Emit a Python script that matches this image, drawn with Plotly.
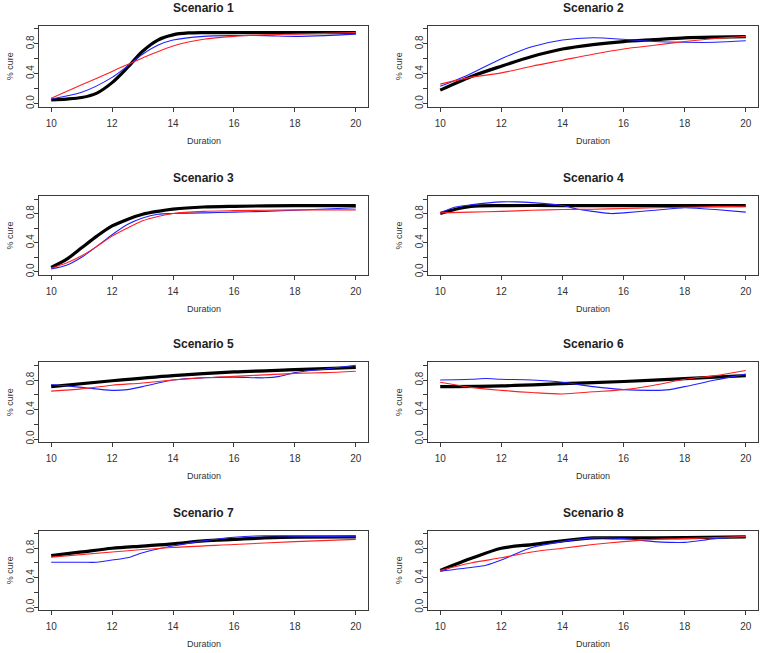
import plotly.graph_objects as go

# ---------------- data ----------------
titles = ["Scenario 1", "Scenario 2", "Scenario 3", "Scenario 4",
          "Scenario 5", "Scenario 6", "Scenario 7", "Scenario 8"]

x_ticks = [10, 12, 14, 16, 18, 20]
y_ticks = [0.0, 0.2, 0.4, 0.6, 0.8, 1.0]
y_tick_text = ["0.0", "", "0.4", "", "0.8", ""]

# Scenario 1
s1_black_x = [10, 10.5, 11, 11.5, 12, 12.5, 13, 13.5, 14, 14.5, 15, 16, 17, 18, 19, 20]
s1_black_y = [0.05, 0.06, 0.08, 0.14, 0.28, 0.48, 0.70, 0.85, 0.92, 0.945, 0.95, 0.95, 0.95, 0.95, 0.95, 0.95]
s1_blue_x = [10, 11, 12, 12.5, 13, 13.5, 14, 15, 16, 17, 18, 19, 20]
s1_blue_y = [0.06, 0.15, 0.35, 0.50, 0.66, 0.78, 0.85, 0.90, 0.91, 0.91, 0.90, 0.91, 0.93]
s1_red_x = [10, 11, 12, 13, 14, 15, 16, 17, 18, 19, 20]
s1_red_y = [0.07, 0.25, 0.43, 0.61, 0.77, 0.86, 0.90, 0.92, 0.93, 0.94, 0.95]

# Scenario 2
s2_black_x = [10, 11, 12, 13, 14, 15, 16, 17, 18, 19, 20]
s2_black_y = [0.18, 0.36, 0.50, 0.63, 0.73, 0.79, 0.83, 0.855, 0.88, 0.89, 0.895]
s2_blue_x = [10, 11, 12, 13, 14, 15, 16, 17, 18, 19, 20]
s2_blue_y = [0.23, 0.40, 0.60, 0.76, 0.85, 0.88, 0.86, 0.83, 0.82, 0.82, 0.84]
s2_red_x = [10, 11, 12, 13, 14, 15, 16, 17, 18, 19, 20]
s2_red_y = [0.26, 0.35, 0.41, 0.50, 0.58, 0.66, 0.73, 0.78, 0.83, 0.87, 0.90]

# Scenario 3
s3_black_x = [10, 10.5, 11, 11.5, 12, 12.5, 13, 13.5, 14, 15, 16, 18, 20]
s3_black_y = [0.06, 0.17, 0.33, 0.49, 0.63, 0.72, 0.79, 0.83, 0.86, 0.89, 0.90, 0.91, 0.91]
s3_blue_x = [10, 10.5, 11, 11.5, 12, 12.5, 13, 13.5, 14, 15, 16, 17, 18, 20]
s3_blue_y = [0.04, 0.09, 0.20, 0.35, 0.51, 0.65, 0.74, 0.79, 0.80, 0.81, 0.82, 0.83, 0.845, 0.88]
s3_red_x = [10, 10.5, 11, 11.5, 12, 12.5, 13, 13.5, 14, 15, 16, 18, 20]
s3_red_y = [0.05, 0.12, 0.22, 0.35, 0.49, 0.60, 0.70, 0.76, 0.80, 0.83, 0.84, 0.85, 0.85]

# Scenario 4
s4_black_x = [10, 10.5, 11, 12, 14, 16, 18, 20]
s4_black_y = [0.80, 0.86, 0.90, 0.91, 0.91, 0.91, 0.91, 0.91]
s4_blue_x = [10, 10.5, 11, 12, 12.5, 13, 14, 14.5, 15, 15.6, 16, 17, 18, 18.5, 19, 20]
s4_blue_y = [0.81, 0.89, 0.92, 0.96, 0.96, 0.95, 0.91, 0.86, 0.83, 0.80, 0.81, 0.845, 0.88, 0.87, 0.855, 0.82]
s4_red_x = [10, 11, 12, 13, 14, 15, 16, 17, 18, 19, 20]
s4_red_y = [0.81, 0.82, 0.83, 0.845, 0.855, 0.86, 0.87, 0.88, 0.885, 0.895, 0.90]

# Scenario 5
s5_black_x = [10, 12, 14, 16, 18, 20]
s5_black_y = [0.71, 0.79, 0.86, 0.91, 0.94, 0.97]
s5_blue_x = [10, 11, 12, 12.5, 13, 14, 15, 16, 17, 17.5, 18, 19, 20]
s5_blue_y = [0.74, 0.70, 0.66, 0.67, 0.71, 0.80, 0.83, 0.84, 0.83, 0.85, 0.90, 0.95, 1.00]
s5_red_x = [10, 11, 12, 13, 14, 15, 16, 17, 18, 19, 20]
s5_red_y = [0.65, 0.68, 0.73, 0.76, 0.80, 0.83, 0.85, 0.87, 0.89, 0.90, 0.92]

# Scenario 6
s6_black_x = [10, 12, 14, 16, 18, 20]
s6_black_y = [0.71, 0.72, 0.75, 0.78, 0.82, 0.86]
s6_blue_x = [10, 11, 11.5, 12, 13, 14, 15, 16, 17, 17.5, 18, 19, 20]
s6_blue_y = [0.80, 0.81, 0.82, 0.81, 0.80, 0.77, 0.71, 0.67, 0.66, 0.67, 0.71, 0.80, 0.88]
s6_red_x = [10, 11, 12, 13, 14, 15, 16, 17, 18, 19, 20]
s6_red_y = [0.77, 0.70, 0.66, 0.63, 0.61, 0.64, 0.67, 0.73, 0.81, 0.86, 0.93]

# Scenario 7
s7_black_x = [10, 11, 12, 13, 14, 15, 16, 17, 18, 20]
s7_black_y = [0.70, 0.75, 0.80, 0.83, 0.86, 0.90, 0.92, 0.94, 0.95, 0.955]
s7_blue_x = [10, 11, 11.5, 12, 12.5, 13, 13.5, 14, 15, 16, 17, 18, 20]
s7_blue_y = [0.61, 0.61, 0.61, 0.64, 0.67, 0.74, 0.79, 0.83, 0.90, 0.95, 0.97, 0.965, 0.955]
s7_red_x = [10, 12, 14, 16, 18, 20]
s7_red_y = [0.68, 0.75, 0.81, 0.85, 0.89, 0.92]

# Scenario 8
s8_black_x = [10, 11, 12, 13, 14, 15, 16, 18, 20]
s8_black_y = [0.50, 0.66, 0.80, 0.85, 0.90, 0.94, 0.94, 0.945, 0.955]
s8_blue_x = [10, 11, 11.5, 12, 12.5, 13, 14, 15, 16, 17, 17.5, 18, 19, 20]
s8_blue_y = [0.49, 0.54, 0.57, 0.64, 0.73, 0.81, 0.89, 0.94, 0.93, 0.89, 0.88, 0.88, 0.93, 0.955]
s8_red_x = [10, 11, 12, 13, 14, 15, 16, 17, 18, 19, 20]
s8_red_y = [0.50, 0.60, 0.67, 0.75, 0.80, 0.85, 0.89, 0.92, 0.93, 0.945, 0.96]

panels = [
    (s1_black_x, s1_black_y, s1_blue_x, s1_blue_y, s1_red_x, s1_red_y),
    (s2_black_x, s2_black_y, s2_blue_x, s2_blue_y, s2_red_x, s2_red_y),
    (s3_black_x, s3_black_y, s3_blue_x, s3_blue_y, s3_red_x, s3_red_y),
    (s4_black_x, s4_black_y, s4_blue_x, s4_blue_y, s4_red_x, s4_red_y),
    (s5_black_x, s5_black_y, s5_blue_x, s5_blue_y, s5_red_x, s5_red_y),
    (s6_black_x, s6_black_y, s6_blue_x, s6_blue_y, s6_red_x, s6_red_y),
    (s7_black_x, s7_black_y, s7_blue_x, s7_blue_y, s7_red_x, s7_red_y),
    (s8_black_x, s8_black_y, s8_blue_x, s8_blue_y, s8_red_x, s8_red_y),
]

# ---------------- layout ----------------
W, H = 761, 653
col_px = [(39, 368), (428, 758)]
row_px = [(26, 107), (197, 276), (364, 444), (533, 613)]
FONT = "Liberation Sans, Arial, sans-serif"
AX = "#3a3a3a"

fig = go.Figure()
layout = dict(
    width=W, height=H, margin=dict(l=0, r=0, t=0, b=0),
    paper_bgcolor="white", plot_bgcolor="white", showlegend=False,
    font=dict(family=FONT, color="#333333", size=10),
)
annotations = []

for i, (bx, by, ux, uy, rx, ry) in enumerate(panels):
    r, c = divmod(i, 2)
    n = i + 1
    xa = "x" if n == 1 else f"x{n}"
    ya = "y" if n == 1 else f"y{n}"
    x0, x1 = col_px[c][0] / W, col_px[c][1] / W
    y0, y1 = 1 - row_px[r][1] / H, 1 - row_px[r][0] / H

    for xs, ys, col, w in ((bx, by, "black", 3.2), (ux, uy, "#2020ff", 1.1), (rx, ry, "#ff2020", 1.1)):
        fig.add_trace(go.Scatter(x=xs, y=ys, mode="lines", xaxis=xa, yaxis=ya,
                                 line=dict(color=col, width=w, shape="spline", smoothing=0.8),
                                 hoverinfo="skip"))

    layout["xaxis" if n == 1 else f"xaxis{n}"] = dict(
        domain=[x0, x1], anchor=ya, range=[9.6, 20.4], tickvals=x_ticks,
        ticktext=[str(t) for t in x_ticks],
        showgrid=False, zeroline=False, showline=True, mirror=True,
        linecolor=AX, linewidth=1, ticks="outside", ticklen=4, tickcolor=AX,
        tickfont=dict(size=10, color="#333333", family=FONT), ticklabelstandoff=3,
    )
    layout["yaxis" if n == 1 else f"yaxis{n}"] = dict(
        domain=[y0, y1], anchor=xa, range=[-0.04, 1.04], tickvals=y_ticks,
        ticktext=y_tick_text, tickangle=-90,
        showgrid=False, zeroline=False, showline=True, mirror=True,
        linecolor=AX, linewidth=1, ticks="outside", ticklen=4, tickcolor=AX,
        tickfont=dict(size=10, color="#333333", family=FONT), ticklabelstandoff=-4,
    )
    xc = (x0 + x1) / 2
    annotations.append(dict(text=f"<b>{titles[i]}</b>", x=xc, y=y1, xref="paper", yref="paper",
                            xanchor="center", yanchor="middle", yshift=18, showarrow=False,
                            font=dict(size=12, color="#222222", family=FONT)))
    annotations.append(dict(text="Duration", x=xc, y=y0, xref="paper", yref="paper",
                            xanchor="center", yanchor="middle", yshift=-34, showarrow=False,
                            font=dict(size=9, color="#333333", family=FONT)))
    annotations.append(dict(text="% cure", x=x0, y=(y0 + y1) / 2, xref="paper", yref="paper",
                            xanchor="center", yanchor="middle", xshift=-29, textangle=-90,
                            showarrow=False, font=dict(size=9, color="#333333", family=FONT)))

layout["annotations"] = annotations
fig.update_layout(**layout)
fig.write_html(
    "out.html",
    config={"displayModeBar": False},
    post_script="document.body.style.margin='0';document.body.style.padding='0';"
                "document.documentElement.style.overflow='hidden';",
)
